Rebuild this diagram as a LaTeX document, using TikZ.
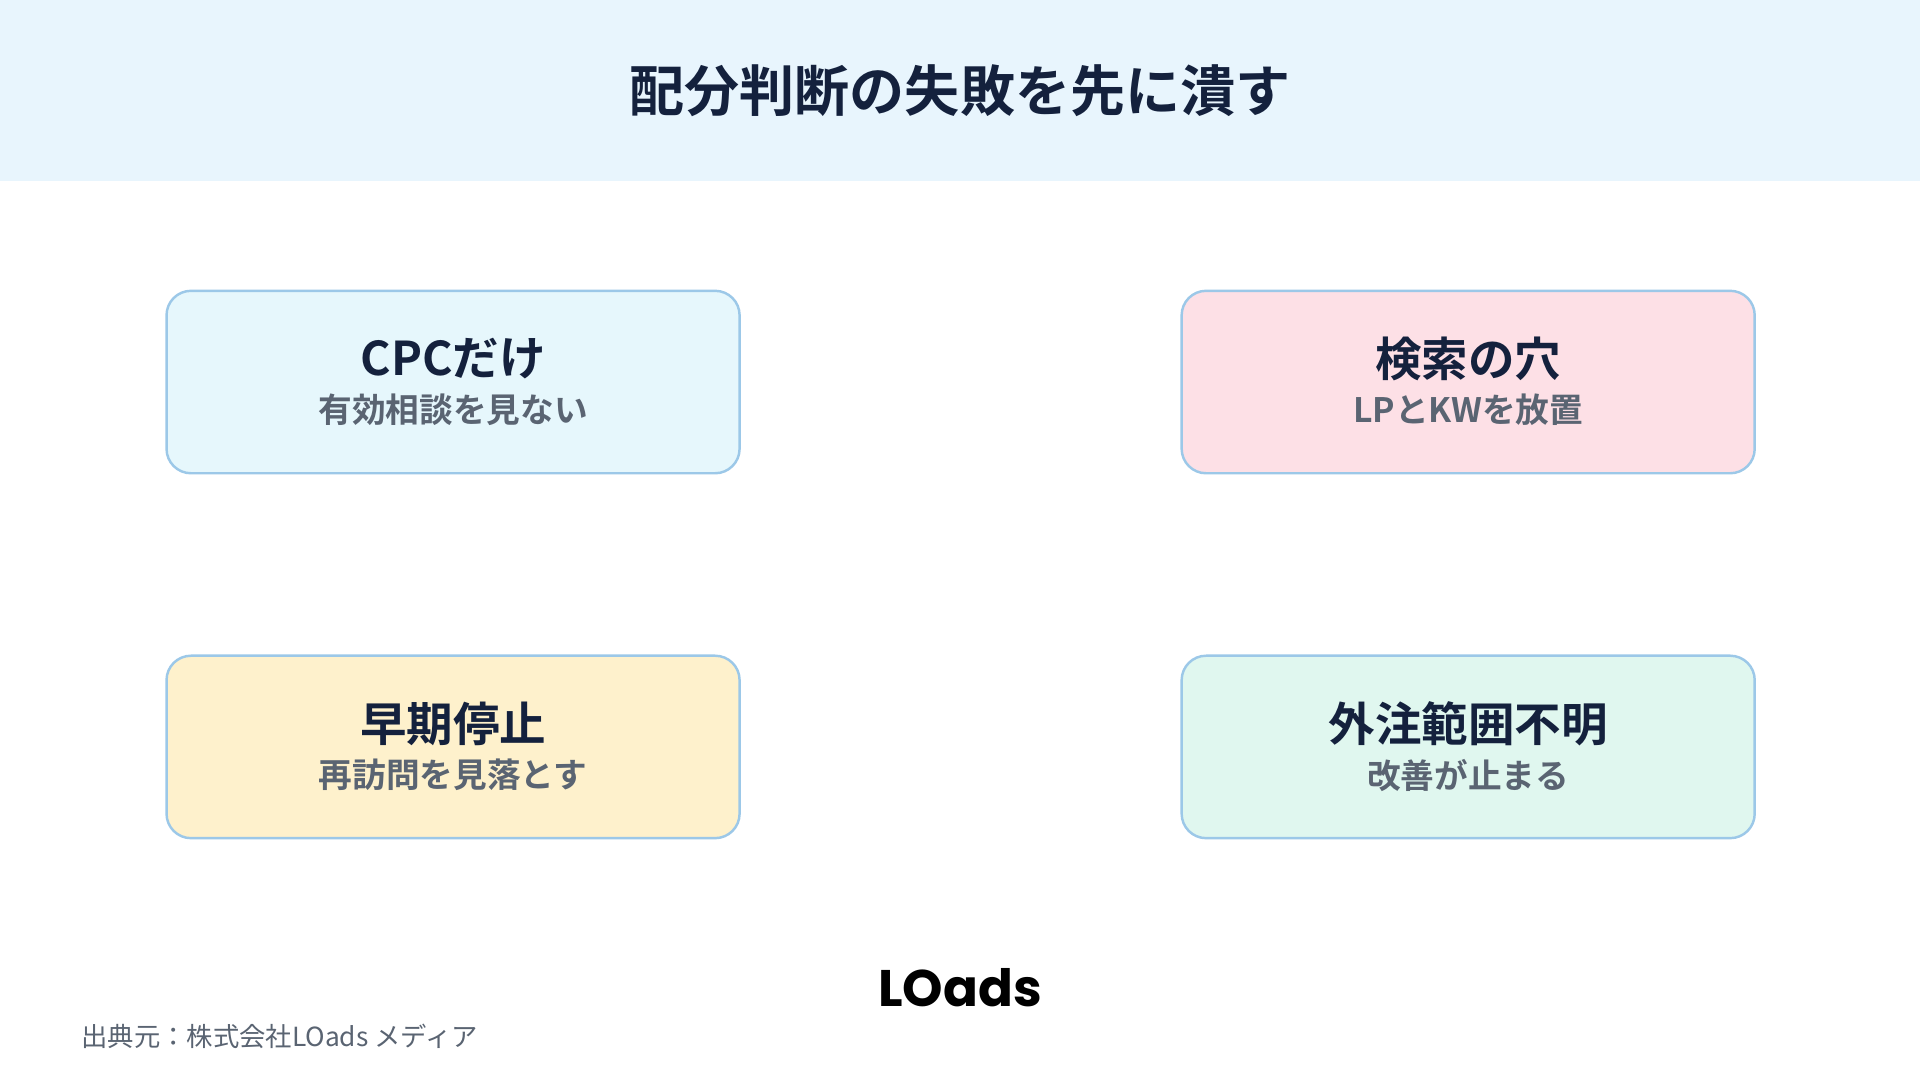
\documentclass[tikz,border=0pt]{standalone}
\usepackage{fontspec}
\newfontfamily\cjk{Noto Sans CJK JP}
\newfontfamily\cjkb{Noto Sans CJK JP Bold}
\newfontfamily\logof{Poppins Bold}
\definecolor{hdr}{HTML}{E8F5FD}
\definecolor{navy}{HTML}{14213D}
\definecolor{gry}{HTML}{5A6472}
\definecolor{bord}{HTML}{9CC8E8}
\definecolor{cA}{HTML}{E6F7FC}
\definecolor{cB}{HTML}{FDE0E6}
\definecolor{cC}{HTML}{FEF1CC}
\definecolor{cD}{HTML}{E0F7EF}
\begin{document}
\begin{tikzpicture}[x=1pt,y=-1pt,
 card/.style={draw=bord,line width=2pt,rounded corners=20pt,minimum width=468pt,minimum height=149pt},
 ttl/.style={font=\cjkb\fontsize{38}{42}\selectfont,text=navy},
 sub/.style={font=\cjkb\fontsize{27.5}{30}\selectfont,text=gry}]
\useasboundingbox (0,0) rectangle (1568,882);
\fill[white] (0,0) rectangle (1568,882);
\fill[hdr] (0,0) rectangle (1568,148);
\node[font=\cjkb\fontsize{45}{48}\selectfont,text=navy] (title) at (784,74) {配分判断の失敗を先に潰す};
\node[card,fill=cA] (a) at (370,312) {};
\node[card,fill=cB] (b) at (1199,312) {};
\node[card,fill=cC] (c) at (370,610) {};
\node[card,fill=cD] (d) at (1199,610) {};
\node[ttl] (at) at (370,293) {CPCだけ};
\node[sub] (as) at (370,335) {有効相談を見ない};
\node[ttl] (bt) at (1199,293) {検索の穴};
\node[sub] (bs) at (1199,335) {LPとKWを放置};
\node[ttl] (ct) at (370,591) {早期停止};
\node[sub] (cs) at (370,633) {再訪問を見落とす};
\node[ttl] (dt) at (1199,591) {外注範囲不明};
\node[sub] (ds) at (1199,633) {改善が止まる};
\node[font=\logof\fontsize{42}{46}\selectfont,text=black] (logo) at (784,807) {LOads};
\node[anchor=west,font=\cjk\fontsize{21.5}{24}\selectfont,text=gry] (src) at (63,846) {出典元：株式会社LOads メディア};
\end{tikzpicture}
\end{document}
